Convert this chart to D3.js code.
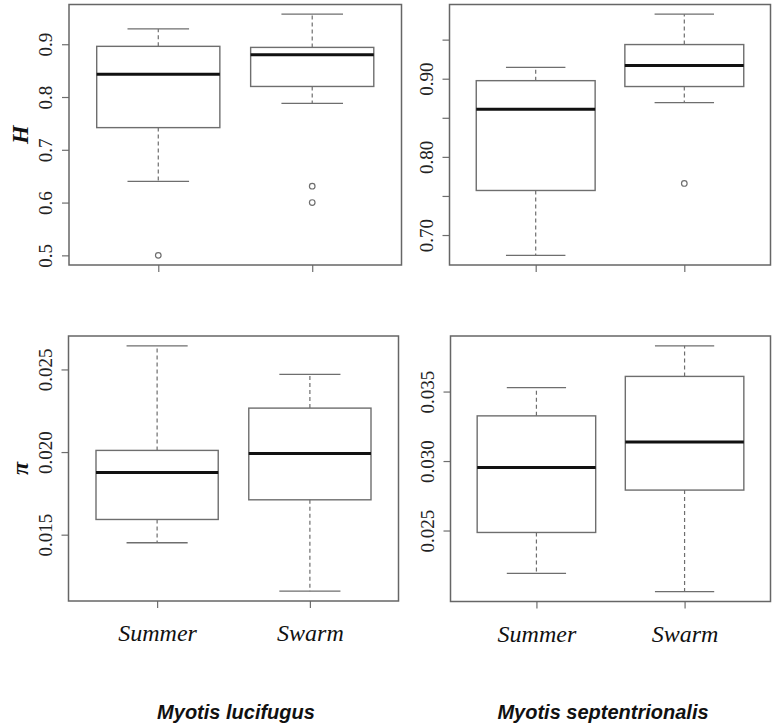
<!DOCTYPE html>
<html>
<head>
<meta charset="utf-8">
<script src="https://cdn.jsdelivr.net/npm/d3@7"></script>
<style>
  body { margin: 0; background: #fff; }
</style>
</head>
<body>
<script>
// boxplot stats: [lower whisker, Q1, median, Q3, upper whisker]
const groups = ["Summer", "Swarm"];
const species = ["Myotis lucifugus", "Myotis septentrionalis"];

const hLucSummer = [0.640, 0.742, 0.843, 0.896, 0.929];
const hLucSwarm = [0.788, 0.820, 0.880, 0.894, 0.957];
const hLucOutliers = [[0.500], [0.631, 0.600]];

const hSepSummer = [0.674, 0.757, 0.861, 0.8975, 0.9145];
const hSepSwarm = [0.8695, 0.890, 0.917, 0.9437, 0.9826];
const hSepOutliers = [[], [0.766]];

const piLucSummer = [0.01451, 0.01592, 0.01876, 0.0201, 0.02643];
const piLucSwarm = [0.01158, 0.01711, 0.01992, 0.02266, 0.0247];
const piLucOutliers = [[], []];

const piSepSummer = [0.02192, 0.02486, 0.02953, 0.03325, 0.03528];
const piSepSwarm = [0.0206, 0.02791, 0.03137, 0.03609, 0.03829];
const piSepOutliers = [[], []];

const hLucTicks = [0.5, 0.6, 0.7, 0.8, 0.9];
const hSepTicks = [0.70, 0.75, 0.80, 0.85, 0.90, 0.95];
const hSepTickLabels = ["0.70", "", "0.80", "", "0.90", ""];
const piLucTicks = [0.015, 0.020, 0.025];
const piSepTicks = [0.025, 0.030, 0.035];

const W = 774, H = 726;
const gray = "#6e6e6e";
const serif = "'Liberation Serif', 'Times New Roman', serif";

const svg = d3.select("body").append("svg")
  .attr("width", W)
  .attr("height", H)
  .attr("viewBox", `0 0 ${W} ${H}`);

const panels = [
  { x0: 69, x1: 401.5, y0: 4.5, y1: 265, boxes: [hLucSummer, hLucSwarm], out: hLucOutliers,
    ticks: hLucTicks, labels: hLucTicks.map(d => d3.format(".1f")(d)), showCats: false },
  { x0: 449.5, x1: 770.5, y0: 4.5, y1: 265, boxes: [hSepSummer, hSepSwarm], out: hSepOutliers,
    ticks: hSepTicks, labels: hSepTickLabels, showCats: false },
  { x0: 68.5, x1: 398.5, y0: 336, y1: 601, boxes: [piLucSummer, piLucSwarm], out: piLucOutliers,
    ticks: piLucTicks, labels: piLucTicks.map(d => d3.format(".3f")(d)), showCats: true },
  { x0: 450.5, x1: 770.5, y0: 336, y1: 601.5, boxes: [piSepSummer, piSepSwarm], out: piSepOutliers,
    ticks: piSepTicks, labels: piSepTicks.map(d => d3.format(".3f")(d)), showCats: true },
];

const drawPanel = (p) => {
  const all = p.boxes.flat().concat(p.out.flat());
  const [lo, hi] = d3.extent(all);
  const pad = (hi - lo) * 0.04;
  const y = d3.scaleLinear().domain([lo - pad, hi + pad]).range([p.y1, p.y0]);
  const x = d3.scaleLinear().domain([0.42, 2.58]).range([p.x0, p.x1]);

  const g = svg.append("g");

  // y axis
  const yAxis = g.append("g")
    .attr("transform", `translate(${p.x0},0)`)
    .call(d3.axisLeft(y).tickValues(p.ticks).tickSize(7)
      .tickFormat((d, i) => p.labels[i]))
    .attr("font-family", serif)
    .attr("font-size", 19);
  yAxis.select(".domain").remove();
  yAxis.selectAll(".tick line").attr("stroke", gray).attr("stroke-width", 1.2);
  yAxis.selectAll(".tick text")
    .attr("transform", "rotate(-90)")
    .attr("x", 0)
    .attr("y", -17)
    .attr("dy", 0)
    .attr("text-anchor", "middle")
    .attr("fill", "#222");

  // x axis
  const xAxis = g.append("g")
    .attr("transform", `translate(0,${p.y1})`)
    .call(d3.axisBottom(x).tickValues([1, 2]).tickSize(7)
      .tickFormat((d) => p.showCats ? groups[d - 1] : ""))
    .attr("font-family", serif)
    .attr("font-size", 24);
  xAxis.select(".domain").remove();
  xAxis.selectAll(".tick line").attr("stroke", gray).attr("stroke-width", 1.2);
  xAxis.selectAll(".tick text")
    .attr("y", 40)
    .attr("dy", 0)
    .style("font-style", "italic")
    .attr("fill", "#111");

  const box = g.selectAll(".box")
    .data(p.boxes)
    .enter()
    .append("g")
    .attr("class", "box");

  // whiskers (dashed)
  box.append("line")
    .attr("x1", (d, i) => x(i + 1)).attr("x2", (d, i) => x(i + 1))
    .attr("y1", (d) => y(d[3])).attr("y2", (d) => y(d[4]))
    .attr("stroke", gray).attr("stroke-width", 1.2).attr("stroke-dasharray", "4,3");
  box.append("line")
    .attr("x1", (d, i) => x(i + 1)).attr("x2", (d, i) => x(i + 1))
    .attr("y1", (d) => y(d[1])).attr("y2", (d) => y(d[0]))
    .attr("stroke", gray).attr("stroke-width", 1.2).attr("stroke-dasharray", "4,3");
  // caps
  [0, 4].forEach((k) => {
    box.append("line")
      .attr("x1", (d, i) => x(i + 1 - 0.2)).attr("x2", (d, i) => x(i + 1 + 0.2))
      .attr("y1", (d) => y(d[k])).attr("y2", (d) => y(d[k]))
      .attr("stroke", gray).attr("stroke-width", 1.3);
  });
  // box
  box.append("rect")
    .attr("x", (d, i) => x(i + 1 - 0.4))
    .attr("width", (d, i) => x(i + 1 + 0.4) - x(i + 1 - 0.4))
    .attr("y", (d) => y(d[3]))
    .attr("height", (d) => y(d[1]) - y(d[3]))
    .attr("fill", "none")
    .attr("stroke", gray)
    .attr("stroke-width", 1.4);
  // median
  box.append("line")
    .attr("x1", (d, i) => x(i + 1 - 0.4)).attr("x2", (d, i) => x(i + 1 + 0.4))
    .attr("y1", (d) => y(d[2])).attr("y2", (d) => y(d[2]))
    .attr("stroke", "#111").attr("stroke-width", 3);

  // outliers
  p.out.forEach((vals, i) => {
    g.selectAll(null)
      .data(vals)
      .enter()
      .append("circle")
      .attr("cx", x(i + 1))
      .attr("cy", (d) => y(d))
      .attr("r", 2.8)
      .attr("fill", "none")
      .attr("stroke", gray)
      .attr("stroke-width", 1.2);
  });

  // frame
  g.append("rect")
    .attr("x", p.x0).attr("y", p.y0)
    .attr("width", p.x1 - p.x0).attr("height", p.y1 - p.y0)
    .attr("fill", "none")
    .attr("stroke", "#666")
    .attr("stroke-width", 1.5);
};

panels.forEach(drawPanel);

// row labels
const rowLabels = [
  { text: "H", y: (panels[0].y0 + panels[0].y1) / 2 },
  { text: "\u03c0", y: (panels[2].y0 + panels[2].y1) / 2 },
];
svg.selectAll(".rowlab")
  .data(rowLabels)
  .enter()
  .append("text")
  .attr("class", "rowlab")
  .attr("transform", (d) => `translate(28,${d.y}) rotate(-90)`)
  .attr("text-anchor", "middle")
  .attr("font-family", serif)
  .attr("font-weight", "bold")
  .attr("font-style", "italic")
  .attr("font-size", 24)
  .attr("fill", "#111")
  .text((d) => d.text);

// species titles
const titleX = [236, 603];
svg.selectAll(".title")
  .data(species)
  .enter()
  .append("text")
  .attr("class", "title")
  .attr("x", (d, i) => titleX[i])
  .attr("y", 719)
  .attr("text-anchor", "middle")
  .attr("font-family", "'Liberation Sans', Arial, sans-serif")
  .attr("font-weight", "bold")
  .attr("font-style", "italic")
  .attr("font-size", 20)
  .attr("fill", "#111")
  .text((d) => d);
</script>
</body>
</html>
